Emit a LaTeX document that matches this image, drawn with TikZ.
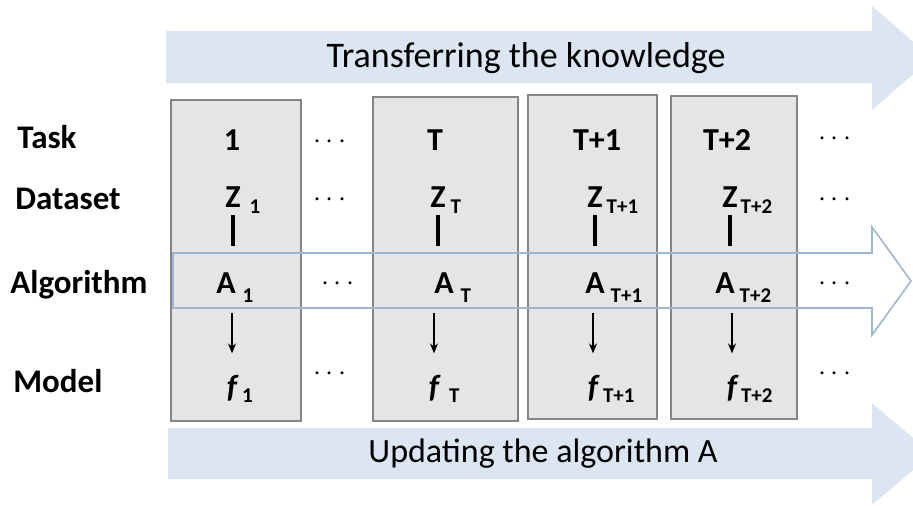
\documentclass[tikz,border=0pt]{standalone}
\usepackage{fontspec}
\setmainfont{Carlito}
\usetikzlibrary{positioning, arrows.meta, calc}
\definecolor{bannerblue}{HTML}{DCE6F2}
\definecolor{taskgray}{HTML}{E6E5E6}
\definecolor{taskline}{HTML}{858585}
\definecolor{algoline}{HTML}{9FB7CE}
\newcommand{\lowidx}[3]{\rlap{\hspace{#1}\raisebox{#2}[0pt][0pt]{\fontsize{10.5}{10.5}\selectfont\upshape #3}}}

\begin{document}
\begin{tikzpicture}[x=0.5pt, y=-0.5pt,
    banner/.style={fill=bannerblue},
    bannertext/.style={inner sep=0pt, font=\fontsize{18}{18}\selectfont},
    taskbox/.style={fill=taskgray, draw=taskline, line width=0.7pt},
    rowlabel/.style={anchor=base west, inner sep=0pt, font=\fontsize{16.5}{16.5}\selectfont\bfseries},
    entry/.style={anchor=base, inner sep=0pt, font=\fontsize{16}{16}\selectfont\bfseries},
    model/.style={entry, font=\fontsize{16}{16}\selectfont\bfseries\itshape},
    dots/.style={anchor=base, inner sep=0pt, font=\fontsize{14}{14}\selectfont},
    bar/.style={line width=1.7pt, shorten <=4pt, shorten >=13pt},
    learns/.style={-{Stealth[length=5pt, width=4pt]}, line width=0.7pt, shorten <=10pt, shorten >=10.5pt}]
  \useasboundingbox (0,0) rectangle (913,505);
  \clip (0,0) rectangle (913,505);

  % knowledge and update banners
  \fill[banner] (166,31) -- (872,31) -- (872,6) -- (932,58) -- (872,110) -- (872,83) -- (166,83) -- cycle;
  \fill[banner] (168,428) -- (872,428) -- (872,403) -- (932,454) -- (872,505) -- (872,479) -- (168,479) -- cycle;
  \node[bannertext] (transfer) at (526,58) {Transferring the knowledge};
  \node[bannertext, font=\fontsize{17}{17}\selectfont] (update) at (543,454) {Updating the algorithm A};

  % one box per task
  \draw[taskbox] (171,100) rectangle (301,421);
  \draw[taskbox] (373,97) rectangle (518,421);
  \draw[taskbox] (528,95) rectangle (657,419);
  \draw[taskbox] (671,96) rectangle (797,419);

  % the algorithm travels along the row
  \draw[algoline, line width=0.8pt] (173,253) -- (872,253) -- (872,227) -- (911,281) -- (872,335) -- (872,308) -- (173,308) -- cycle;

  \node[rowlabel] (task) at (17,148) {Task};
  \node[rowlabel] (dataset) at (15,209) {Dataset};
  \node[rowlabel] (algorithm) at (10,293) {Algorithm};
  \node[rowlabel] (model) at (13,392) {Model};

  \node[entry] (t1) at (232,150) {1};
  \node[entry] (tT) at (435,150) {T};
  \node[entry] (tT1) at (597,150) {T+1};
  \node[entry] (tT2) at (727,150) {T+2};

  \node[entry] (z1) at (233,207) {Z\lowidx{4.5pt}{-3pt}{1}};
  \node[entry] (zT) at (438,207) {Z\lowidx{2.5pt}{-3pt}{T}};
  \node[entry] (zT1) at (595,207) {Z\lowidx{2pt}{-3pt}{T+1}};
  \node[entry] (zT2) at (730,207) {Z\lowidx{1.5pt}{-3pt}{T+2}};

  \node[entry] (a1) at (226,293) {A\lowidx{3.5pt}{-4.5pt}{1}};
  \node[entry] (aT) at (444,293) {A\lowidx{3.5pt}{-4.5pt}{T}};
  \node[entry] (aT1) at (595,293) {A\lowidx{3pt}{-4.5pt}{T+1}};
  \node[entry] (aT2) at (725,293) {A\lowidx{2.5pt}{-4.5pt}{T+2}};

  \node[model] (f1) at (232,397) {f\lowidx{2.5pt}{-2.5pt}{1}};
  \node[model] (fT) at (434,397) {f\lowidx{5pt}{-2.5pt}{T}};
  \node[model] (fT1) at (593,397) {f\lowidx{2.5pt}{-2.5pt}{T+1}};
  \node[model] (fT2) at (732,397) {f\lowidx{2pt}{-2.5pt}{T+2}};

  % gaps between the tasks
  \node[dots] (gap1) at (330,148) {$\cdots$};
  \node[dots] (gap2) at (330,206) {$\cdots$};
  \node[dots] (gap3) at (338,290) {$\cdots$};
  \node[dots] (gap4) at (330,380) {$\cdots$};
  \node[dots] (more1) at (835,145) {$\cdots$};
  \node[dots] (more2) at (835,206) {$\cdots$};
  \node[dots] (more3) at (835,290) {$\cdots$};
  \node[dots] (more4) at (835,380) {$\cdots$};

  \draw[bar] (z1.south) -- (z1.south |- a1.north);
  \draw[bar] (zT.south) -- (zT.south |- aT.north);
  \draw[bar] (zT1.south) -- (zT1.south |- aT1.north);
  \draw[bar] (zT2.south) -- (zT2.south |- aT2.north);

  \draw[learns] (a1.south -| f1.north) -- (f1.north);
  \draw[learns] (aT.south -| fT.north) -- (fT.north);
  \draw[learns] (aT1.south -| fT1.north) -- (fT1.north);
  \draw[learns] (aT2.south -| fT2.north) -- (fT2.north);
\end{tikzpicture}
\end{document}
